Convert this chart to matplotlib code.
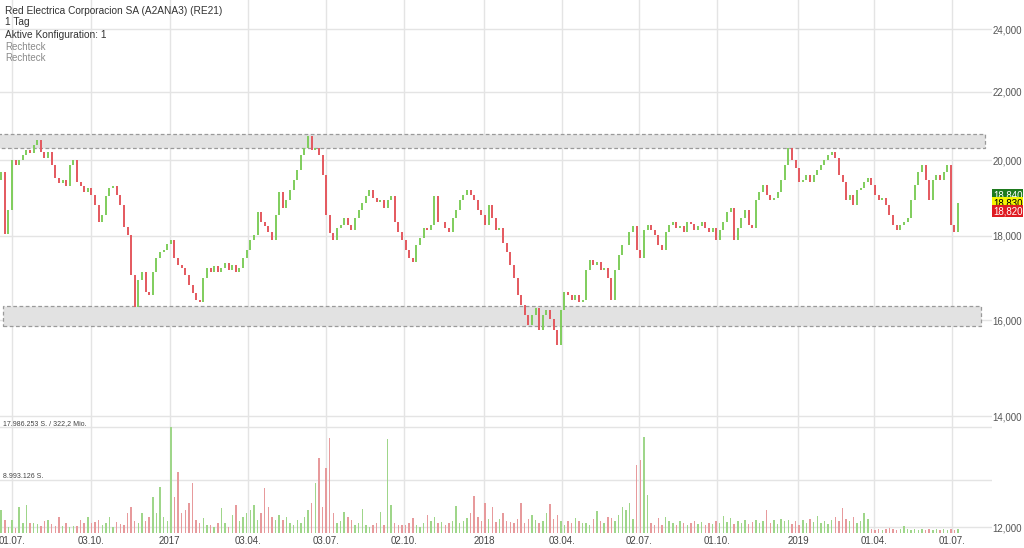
import numpy as np
import pandas as pd
import matplotlib
matplotlib.use('Agg')
import matplotlib.pyplot as plt
from matplotlib.patches import Rectangle
from matplotlib.ticker import NullLocator
import matplotlib.transforms as mtransforms

plt.rcParams['font.family'] = ['Liberation Sans', 'DejaVu Sans']

# header texts
title = 'Red Electrica Corporacion SA (A2ANA3) (RE21)'
period = '1 Tag'
config = 'Aktive Konfiguration: 1'
shapes = ['Rechteck', 'Rechteck']

# closing prices, one candle every 3 trading days from 20.06.2016
first_open = 19450
closes = [
    19660, 18050, 18660, 20000, 19860, 20000, 20140, 20280, 20200, 20430,
    20570, 20230, 20060, 20230, 19860, 19500, 19370, 19450, 19290, 19860,
    20000, 19400, 19290, 19130, 19240, 19050, 18790, 18350, 18530, 19020,
    19240, 19290, 19050, 18790, 18220, 18020, 17050, 16300, 16930, 17110,
    16640, 16580, 17110, 17450, 17600, 17650, 17790, 17890, 17450, 17280,
    17210, 17050, 16810, 16620, 16460, 16410, 16980, 17210, 17110, 17260,
    17110, 17210, 17330, 17160, 17280, 17110, 17210, 17450, 17650, 17890,
    18020, 18610, 18350, 18250, 18090, 17890, 18530, 19130, 18710, 18920,
    19180, 19450, 19720, 20140, 20340, 20680, 20280, 20340, 20140, 19590,
    18530, 18070, 17890, 18190, 18270, 18450, 18270, 18140, 18450, 18660,
    18840, 19020, 19180, 18970, 18870, 18920, 18710, 18920, 19020, 18350,
    18090, 17890, 17650, 17450, 17350, 17770, 17940, 18190, 18140, 18270,
    19020, 18350, 18350, 18190, 18090, 18450, 18660, 18920, 19050, 19180,
    19050, 18920, 18660, 18530, 18270, 18790, 18450, 18140, 18190, 17820,
    17600, 17280, 16980, 16580, 16340, 16110, 15890, 16110, 16270, 15790,
    16110, 16230, 16040, 15790, 15460, 16230, 16640, 16580, 16460, 16580,
    16410, 16460, 17160, 17400, 17280, 17350, 17160, 17210, 16980, 16460,
    17160, 17520, 17770, 17770, 18090, 18250, 17650, 17450, 18140, 18270,
    18140, 18020, 17770, 17650, 18090, 18270, 18350, 18190, 18250, 18090,
    18350, 18300, 18140, 18250, 18350, 18190, 18090, 18190, 17890, 18140,
    18350, 18610, 18710, 17890, 18190, 18450, 18660, 18270, 18190, 18920,
    19130, 19320, 19050, 18920, 18970, 19130, 19450, 19860, 20340, 20000,
    19780, 19400, 19450, 19590, 19400, 19590, 19720, 19860, 20000, 20140,
    20230, 20060, 19590, 19400, 18920, 19050, 18790, 19180, 19240, 19400,
    19500, 19320, 19050, 18920, 18970, 18790, 18530, 18270, 18140, 18270,
    18350, 18450, 18920, 19320, 19660, 19860, 19450, 18920, 19450, 19590,
    19450, 19660, 19860, 18270, 18090, 18840]

# volume in million shares, same candles
volume_mio = [
    3.9, 2.2, 1.0, 2.2, 0.9, 4.4, 1.7, 4.8, 1.7, 1.7,
    1.5, 1.2, 2.0, 2.2, 1.5, 1.2, 2.7, 1.2, 1.7, 1.0,
    1.2, 1.2, 2.2, 1.7, 2.7, 1.7, 1.9, 2.2, 1.4, 1.7,
    2.7, 1.0, 1.9, 1.5, 1.4, 3.4, 4.4, 2.0, 1.7, 3.4,
    2.0, 2.7, 6.1, 3.4, 7.8, 2.7, 2.0, 17.99, 6.1, 10.4,
    3.4, 3.9, 5.1, 8.5, 2.2, 1.7, 2.5, 1.4, 1.4, 1.0,
    1.7, 4.2, 1.7, 1.0, 3.1, 4.8, 2.0, 2.7, 3.4, 3.9,
    4.8, 2.2, 3.4, 7.6, 4.4, 2.7, 2.2, 3.1, 2.2, 2.7,
    1.7, 1.4, 2.2, 1.7, 2.7, 3.9, 5.1, 8.5, 12.7, 4.4,
    11.0, 16.1, 3.4, 1.7, 2.0, 3.6, 2.7, 2.2, 1.4, 1.7,
    4.1, 1.4, 1.0, 1.4, 1.7, 3.6, 1.4, 16.0, 4.8, 1.7,
    1.4, 1.4, 1.4, 1.7, 2.5, 1.4, 1.0, 1.7, 3.1, 2.0,
    2.7, 1.7, 1.9, 1.4, 1.7, 2.0, 4.6, 1.7, 2.0, 2.5,
    3.4, 6.3, 2.7, 2.0, 5.1, 2.4, 4.4, 1.9, 2.4, 3.4,
    2.0, 1.9, 1.7, 2.4, 5.1, 1.7, 2.4, 3.1, 2.2, 1.7,
    2.0, 3.4, 4.9, 2.4, 3.1, 2.0, 1.4, 2.0, 1.7, 2.5,
    2.0, 1.7, 1.7, 1.4, 2.4, 3.7, 2.0, 1.7, 2.7, 2.5,
    2.0, 3.1, 4.4, 3.9, 5.1, 2.4, 11.5, 12.4, 16.3, 6.5,
    1.7, 1.4, 2.5, 1.4, 2.7, 2.0, 1.7, 1.4, 2.0, 1.7,
    1.4, 1.7, 2.0, 1.5, 1.9, 1.4, 1.7, 1.5, 2.0, 1.7,
    2.9, 1.9, 2.5, 1.5, 2.0, 1.7, 2.2, 1.5, 1.9, 2.2,
    1.7, 2.0, 3.9, 1.7, 2.2, 1.5, 2.4, 2.0, 2.2, 1.5,
    2.0, 1.4, 2.2, 1.7, 2.4, 1.9, 2.9, 1.7, 2.0, 1.5,
    2.2, 2.7, 2.0, 4.2, 2.4, 2.0, 2.7, 1.7, 2.0, 3.4,
    2.4, 0.7, 0.5, 0.7, 0.5, 0.7, 0.9, 0.7, 0.5, 0.7,
    1.2, 0.7, 0.5, 0.7, 0.5, 0.7, 0.5, 0.7, 0.5, 0.7,
    0.5, 0.7, 0.5, 0.7, 0.5, 0.7]

tick_dates = ['2016-07-01', '2016-10-03', '2017-01-02', '2017-04-03', '2017-07-03',
              '2017-10-02', '2018-01-02', '2018-04-03', '2018-07-02', '2018-10-01',
              '2019-01-02', '2019-04-01', '2019-07-01']
tick_labels = ['01.07.', '03.10.', '2017', '03.04.', '03.07.', '02.10.', '2018',
               '03.04.', '02.07.', '01.10.', '2019', '01.04.', '01.07.']
price_ticks = [12000, 14000, 16000, 18000, 20000, 22000, 24000]

# rectangles drawn on the chart (price low, high)
zones = [(20340, 20740), (15870, 16320)]

last_prices = ['18,840', '18,830', '18,820']
vol_max = 17986253
vol_labels = ['17.986.253 S. / 322,2 Mio.', '8.993.126 S.']

GREEN = '#7fcd5c'
RED = '#e4585e'
GRID = '#e4e4e4'

base = pd.Timestamp('2016-06-20')
dates = pd.bdate_range(base, periods=len(closes), freq='3B')


def bday(d):
    return np.busday_count(base.date(), pd.Timestamp(d).date())


x = np.array([bday(d) for d in dates])
opens = [first_open] + closes[:-1]
up = np.array(closes) >= np.array(opens)
cols = [GREEN if u else RED for u in up]

fig = plt.figure(figsize=(10.24, 5.48), dpi=100)
pos = [0, 15 / 548, 992 / 1024, 533 / 548]
ax = fig.add_axes(pos)
ax.set_yscale('log')
ax.set_ylim(11901, 24989)
ax.set_xlim(-0.97, 823.2)
for s in ax.spines.values():
    s.set_visible(False)

tick_x = [bday(d) for d in tick_dates]
for t in tick_x:
    ax.axvline(t, color=GRID, lw=1, zorder=0)
for p in price_ticks:
    ax.axhline(p, color=GRID, lw=1, zorder=0)

ax.yaxis.tick_right()
ax.set_yticks(price_ticks)
ax.set_yticklabels(['{:,}'.format(p) for p in price_ticks])
ax.yaxis.set_minor_locator(NullLocator())
ax.tick_params(axis='y', length=0, pad=0.5, labelsize=7, labelcolor='#555555')
ax.set_xticks(tick_x)
ax.set_xticklabels(tick_labels)
ax.tick_params(axis='x', length=0, pad=2, labelsize=7, labelcolor='#444444')

# zones
zone_x = [(-5, 817.4), (1.5, 814.1)]
for (lo, hi), (x0, x1) in zip(zones, zone_x):
    ax.add_patch(Rectangle((x0, lo), x1 - x0, hi - lo, facecolor='#e2e2e2',
                           edgecolor='#9a9a9a', linestyle=(0, (3, 2)), lw=0.9, zorder=1))

# candles
lo = np.minimum(opens, closes)
hi = np.maximum(opens, closes)
ax.vlines(x, lo, hi, colors=cols, lw=1.4, zorder=3)

# volume on its own transparent axes at the same place
axv = fig.add_axes(pos, facecolor='none')
axv.set_ylim(0, vol_max / 1e6 * 533 / 106)
axv.set_xlim(ax.get_xlim())
axv.axis('off')
vcols = ['#9fd68a' if u else '#e79a9c' for u in up]
axv.bar(x, volume_mio, width=1.2, color=vcols, zorder=2)
trans = mtransforms.blended_transform_factory(axv.transAxes, axv.transData)
for frac, lab in zip([1.0, 0.5], vol_labels):
    axv.axhline(vol_max / 1e6 * frac, color=GRID, lw=1, zorder=0)
    axv.text(3 / 992, vol_max / 1e6 * frac, lab, transform=trans, fontsize=5,
             color='#444444', va='bottom', ha='left')

# header
fig.text(5 / 1024, 1 - 11 / 548, title, fontsize=7.3, color='#333333', va='center')
fig.text(5 / 1024, 1 - 22 / 548, period, fontsize=7.3, color='#333333', va='center')
fig.text(5 / 1024, 1 - 35 / 548, config, fontsize=7.3, color='#333333', va='center')
for i, s in enumerate(shapes):
    fig.text(5 / 1024, 1 - (47 + 11 * i) / 548, s, fontsize=7, color='#8a8a8a', va='center')

# last price tags
tag_style = [('#1e7a1e', 'white'), ('#f5f500', 'black'), ('#df1b22', 'white')]
for i, (lab, (bg, fg)) in enumerate(zip(last_prices, tag_style)):
    fig.text(993 / 1024, 1 - (195 + 8 * i) / 548, lab, fontsize=7, color=fg,
             va='center', ha='left',
             bbox=dict(boxstyle='square,pad=0.08', fc=bg, ec='none'))

fig.savefig('out.png', dpi=100)
